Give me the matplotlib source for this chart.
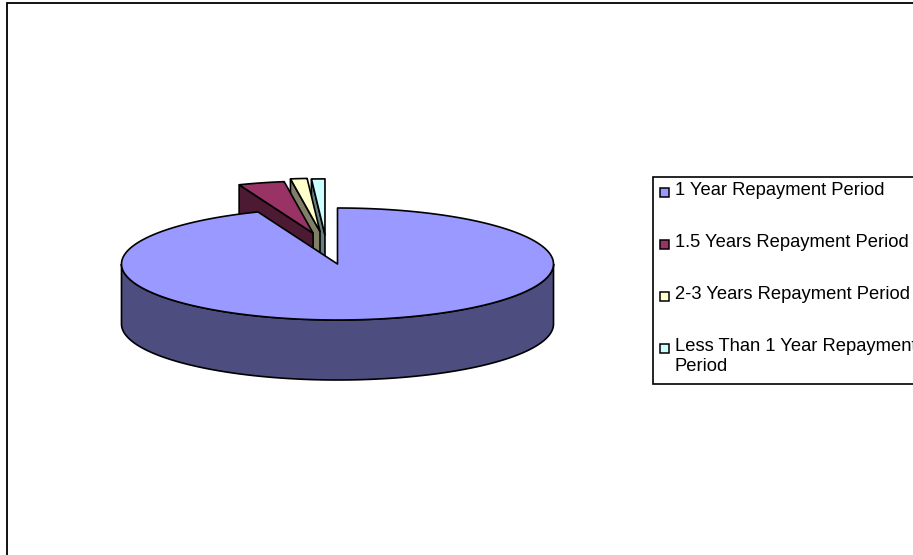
# plot.py
"""
Recreates the exploded 3D pie chart of repayment periods.
"""

import numpy as np
import matplotlib
matplotlib.use('Agg')
import matplotlib.pyplot as plt
from matplotlib.patches import Polygon, Rectangle

plt.rcParams['font.family'] = ['Liberation Sans', 'DejaVu Sans']

# ---------------------------------------------------------------------------
# Data
categories = ['1 Year Repayment Period', '1.5 Years Repayment Period',
              '2-3 Years Repayment Period', 'Less Than 1 Year Repayment\nPeriod']
shares = [94.0, 3.7, 1.3, 1.0]

# ---------------------------------------------------------------------------
# Styles
top_colors = ['#9999FF', '#993366', '#FFFFCC', '#CCFFFF']
side_colors = ['#4D4D80', '#4D1A33', '#808066', '#668080']

CX, CY = 337.5, 264.0
RX, RY = 216.0, 56.0
DEPTH = 60.0
LW = 1.2
# slice offset from the pie centre, as a fraction of the radii
explode_x = [0.0, -0.113, -0.081, -0.058]
explode_y = [0.0, 0.55, 0.58, 0.52]
slice_radius = [1.0, 0.93, 0.95, 1.0]


def rim(start, end, ox, oy, r):
    # angles clockwise from 12 o'clock, in degrees
    t = np.radians(np.linspace(start, end, 300))
    x = CX + RX * (ox + r * np.sin(t))
    y = CY - RY * (oy + r * np.cos(t))
    return np.column_stack([x, y])


def draw_slice(ax, start, end, i, z):
    ox, oy, r = explode_x[i], explode_y[i], slice_radius[i]
    apex = np.array([CX + RX * ox, CY - RY * oy])
    arc = rim(start, end, ox, oy, r)
    drop = np.array([0, DEPTH])

    # walls first, the top face goes over them
    if i == 0:
        # outer wall, only the part facing the viewer
        front = rim(90, 270, ox, oy, r)
        ax.add_patch(Polygon(np.vstack([front, (front + drop)[::-1]]), fc=side_colors[i],
                             ec='black', lw=LW, zorder=z))
    else:
        ax.add_patch(Polygon([arc[0], apex, apex + drop, arc[0] + drop], fc=side_colors[i],
                             ec='black', lw=LW, zorder=z))
    ax.add_patch(Polygon(np.vstack([apex, arc]), fc=top_colors[i], ec='black', lw=LW,
                         joinstyle='round', zorder=z + 0.5))


def draw_legend(ax):
    ax.add_patch(Rectangle((652.5, 176.5), 300, 207, fc='white', ec='black', lw=1.2, zorder=5))
    text_y = [190.5, 242.5, 294.5, 356.5]
    marker_y = [192.5, 244, 296, 348]
    for i, label in enumerate(categories):
        ax.add_patch(Rectangle((659.5, marker_y[i] - 4.5), 9, 9, fc=top_colors[i], ec='black',
                               lw=1.1, zorder=6))
        ax.text(675, text_y[i], label, fontsize=13.2, color='black', va='center', ha='left',
                linespacing=1.2, zorder=6)


def make_chart():
    fig = plt.figure(figsize=(9.13, 5.55), dpi=100)
    ax = fig.add_axes([0, 0, 1, 1])
    ax.set_xlim(0, 913)
    ax.set_ylim(555, 0)
    ax.axis('off')

    # outer frame runs off the right and bottom of the picture
    ax.add_patch(Rectangle((7, 3), 1000, 700, fc='white', ec='black', lw=1.3, zorder=0))

    # slice angles, the big slice starts at 12 o'clock, the small ones fill the gap before it
    sweep = np.array(shares) / sum(shares) * 360
    start = sweep[0] - 360
    n = len(shares)
    for i in range(1, n):
        # left slices sit in front of the ones to their right
        draw_slice(ax, start, start + sweep[i], i, 1 + n - i)
        start += sweep[i]
    # big slice on top, it hides the lower part of the small ones
    draw_slice(ax, 0, sweep[0], 0, n + 2)

    draw_legend(ax)
    fig.savefig('out.png', dpi=100)


if __name__ == '__main__':
    make_chart()
